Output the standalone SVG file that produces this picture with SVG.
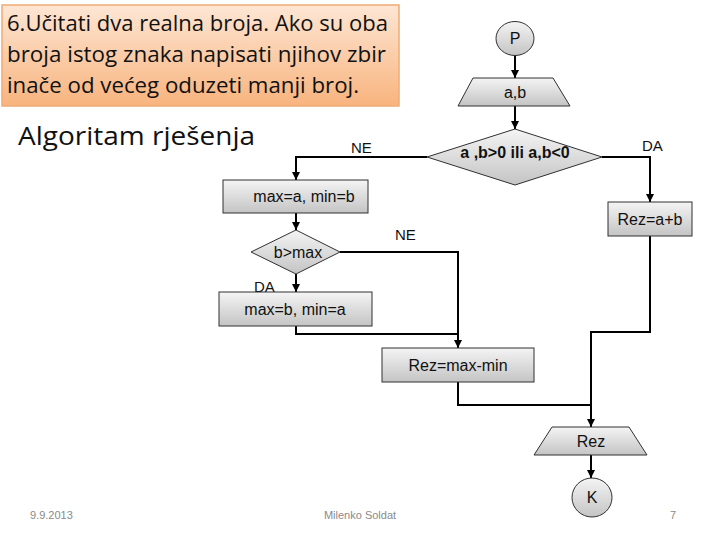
<svg xmlns="http://www.w3.org/2000/svg" width="720" height="540" viewBox="0 0 720 540">
<defs>
<linearGradient id="gray" x1="0" y1="0" x2="0" y2="1">
<stop offset="0" stop-color="#f4f4f4"/>
<stop offset="1" stop-color="#c4c4c4"/>
</linearGradient>
<linearGradient id="peach" x1="0" y1="0" x2="0" y2="1">
<stop offset="0" stop-color="#fde6d4"/>
<stop offset="1" stop-color="#f8b47e"/>
</linearGradient>
<marker id="arr" markerWidth="10" markerHeight="10" refX="9" refY="5" orient="auto" markerUnits="userSpaceOnUse">
<path d="M1,1 L9,5 L1,9 Z" fill="#000"/>
</marker>
<style>
.shape{fill:url(#gray);stroke:#303030;stroke-width:1}
.lbl{font-family:"Liberation Sans",Arial,sans-serif;font-size:16px;fill:#111;text-anchor:middle}
.tag{font-family:"Liberation Sans",Arial,sans-serif;font-size:15px;fill:#111}
.con{fill:none;stroke:#000;stroke-width:2}
.title{font-family:"Open Sans","Liberation Sans",sans-serif;font-size:21px;fill:#111}
.foot{font-family:"Liberation Sans",Arial,sans-serif;font-size:11px;fill:#8a8a8a}
</style>
</defs>
<rect width="720" height="540" fill="#fff"/>

<g id="title">
<rect x="2" y="5" width="397" height="101" fill="url(#peach)" stroke="#f0ab74" stroke-width="1.5"/>
<text class="title" x="7" y="31" textLength="381" lengthAdjust="spacingAndGlyphs">6.Učitati dva realna broja. Ako su oba</text>
<text class="title" x="7" y="62" textLength="379" lengthAdjust="spacingAndGlyphs">broja istog znaka napisati njihov zbir</text>
<text class="title" x="7" y="93" textLength="352" lengthAdjust="spacingAndGlyphs">inače od većeg oduzeti manji broj.</text>
</g>
<g id="subtitle">
<text x="18" y="145" font-family="Open Sans, Liberation Sans, sans-serif" font-size="26" fill="#111" textLength="237" lengthAdjust="spacingAndGlyphs">Algoritam rješenja</text>
</g>

<g id="connectors">
<path class="con" d="M515,55 V78" marker-end="url(#arr)"/>
<path class="con" d="M515,106 V129" marker-end="url(#arr)"/>
<path class="con" d="M427,157 H296 V180" marker-end="url(#arr)"/>
<path class="con" d="M602,157 H650 V202" marker-end="url(#arr)"/>
<path class="con" d="M296,213 V230" marker-end="url(#arr)"/>
<path class="con" d="M296,274 V292" marker-end="url(#arr)"/>
<path class="con" d="M340,252 H458 V348" marker-end="url(#arr)"/>
<path class="con" d="M296,326 V334 H458"/>
<path class="con" d="M650,236 V332 H591 V427" marker-end="url(#arr)"/>
<path class="con" d="M458,382 V405 H591"/>
<path class="con" d="M591,455 V478" marker-end="url(#arr)"/>
<text class="tag" x="351" y="153">NE</text>
<text class="tag" x="642" y="151">DA</text>
<text class="tag" x="395" y="240">NE</text>
<text class="tag" x="254" y="292">DA</text>
</g>

<g id="start">
<ellipse class="shape" cx="515" cy="38.5" rx="19" ry="17"/>
<text class="lbl" x="515" y="44">P</text>
</g>
<g id="input">
<polygon class="shape" points="473,78 553,78 570,106 458,106"/>
<text class="lbl" x="515" y="98">a,b</text>
</g>
<g id="cond1">
<polygon class="shape" points="515,129 602,157 515,185 427,157"/>
<text class="lbl" x="515" y="158" font-size="12" font-weight="bold">a ,b&gt;0 ili a,b&lt;0</text>
</g>
<g id="init">
<rect class="shape" x="223" y="180" width="145" height="33"/>
<text class="lbl" x="304" y="202">max=a, min=b</text>
</g>
<g id="cond2">
<polygon class="shape" points="296,230 340,252 296,274 251,252"/>
<text class="lbl" x="298" y="258">b&gt;max</text>
</g>
<g id="swap">
<rect class="shape" x="219" y="292" width="153" height="34"/>
<text class="lbl" x="295" y="315">max=b, min=a</text>
</g>
<g id="sum">
<rect class="shape" x="608" y="202" width="84" height="34"/>
<text class="lbl" x="650" y="225">Rez=a+b</text>
</g>
<g id="diff">
<rect class="shape" x="382" y="348" width="152" height="34"/>
<text class="lbl" x="458" y="371">Rez=max-min</text>
</g>
<g id="output">
<polygon class="shape" points="552,427 629,427 647,455 534,455"/>
<text class="lbl" x="591" y="447">Rez</text>
</g>
<g id="end">
<ellipse class="shape" cx="592" cy="497.5" rx="20" ry="19.5"/>
<text class="lbl" x="592" y="503">K</text>
</g>

<g id="footer">
<text class="foot" x="30" y="519">9.9.2013</text>
<text class="foot" x="360" y="519" text-anchor="middle">Milenko Soldat</text>
<text class="foot" x="670" y="519">7</text>
</g>
</svg>
